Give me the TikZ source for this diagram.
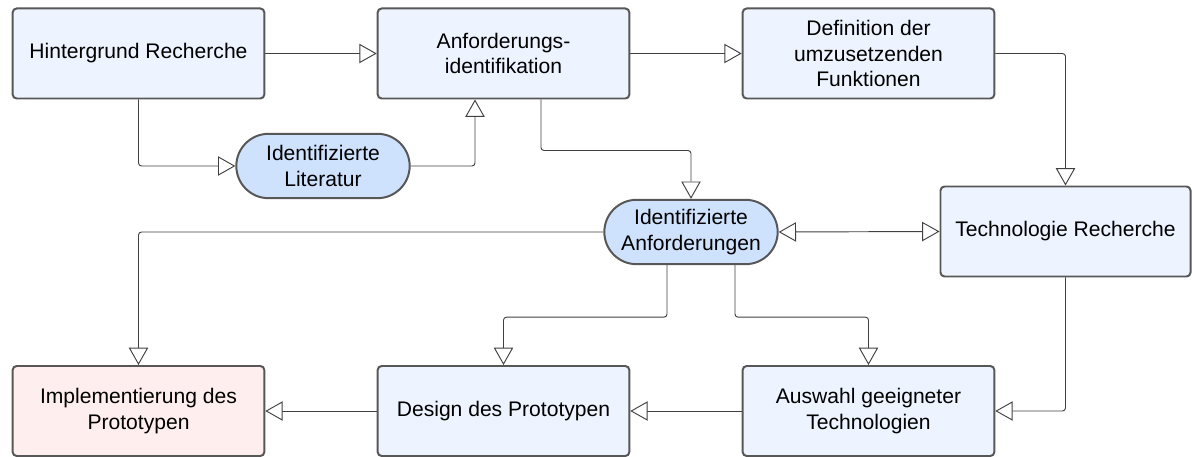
\documentclass[tikz,border=0pt]{standalone}
\usepackage{fontspec}
\setmainfont{Liberation Sans}
\usetikzlibrary{arrows.meta,calc,shapes.misc}
\definecolor{boxfill}{HTML}{EDF4FF}
\definecolor{pillfill}{HTML}{CFE2FD}
\definecolor{implfill}{HTML}{FFEEEE}
\definecolor{rim}{HTML}{575757}
\tikzset{
  box/.style={draw=rim,line width=1.7pt,fill=boxfill,rounded corners=0.12cm,
    minimum width=7.55cm,minimum height=2.7cm,align=center,
    font=\fontsize{18}{21.5}\selectfont},
  pill/.style={rounded rectangle,draw=rim,line width=1.7pt,fill=pillfill,
    minimum width=5.2cm,minimum height=1.93cm,align=center,inner sep=0pt,
    font=\fontsize{18}{21.5}\selectfont},
  conn/.style={draw=black!75,line width=0.8pt,rounded corners=0.09cm,
    -{Triangle[open,length=0.52cm,width=0.58cm]}},
}
\begin{document}
\begin{tikzpicture}[x=0.03cm,y=-0.03cm]
        \useasboundingbox (0,0) rectangle (1192,457);
        \node[box] (hint) at (138.5,53.5) {Hintergrund Recherche};
        \node[box] (anf) at (503.5,53.5) {Anforderungs-\\identifikation};
        \node[box] (def) at (868.5,53.5) {Definition der\\umzusetzenden\\Funktionen};
        \node[pill] (lit) at (323,166) {Identifizierte\\Literatur};
        \node[pill] (ianf) at (691,232) {Identifizierte\\Anforderungen};
        \node[box,minimum width=7.5cm] (tech) at (1065.5,231.5) {Technologie Recherche};
        \node[box,fill=implfill] (impl) at (138.5,411) {Implementierung des\\Prototypen};
        \node[box] (design) at (503.5,411) {Design des Prototypen};
        \node[box] (ausw) at (868.5,411) {Auswahl geeigneter\\Technologien};

        \draw[conn] (hint) -- (anf);
        \draw[conn] (hint.south) |- (lit.west);
        \draw[conn] (lit.east) -| ($(anf.south)+(-28.5,0)$);
        \draw[conn] ($(anf.south)+(37.5,0)$) -- ++(0,51) -| (ianf.north);
        \draw[conn] (anf) -- (def);
        \draw[conn] (def.east) -| (tech.north);
        \draw[conn,{Triangle[open,length=0.52cm,width=0.58cm]}-{Triangle[open,length=0.52cm,width=0.58cm]}] (ianf.east) -- (tech.west);
        \draw[conn] (ianf.west) -| (impl.north);
        \draw[conn] ($(ianf.south)+(-24,0)$) -- ++(0,52) -| (design.north);
        \draw[conn] ($(ianf.south)+(44,0)$) -- ++(0,52) -| (ausw.north);
        \draw[conn] (tech.south) |- (ausw.east);
        \draw[conn] (ausw) -- (design);
        \draw[conn] (design) -- (impl);
\end{tikzpicture}
\end{document}
